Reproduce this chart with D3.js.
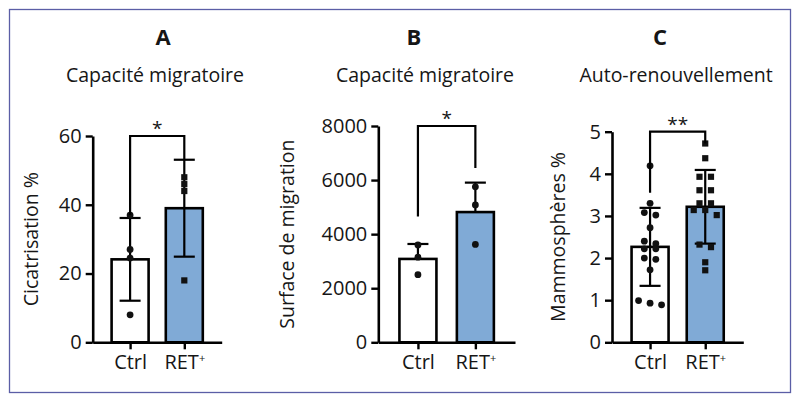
<!DOCTYPE html>
<html lang="fr">
<head>
<meta charset="UTF-8">
<title>Capacité migratoire et auto-renouvellement</title>
<style>
    body { margin: 0; background: #fff; }
    svg { display: block; font-family: "Open Sans", "Noto Sans", sans-serif; }
</style>
</head>
<body>
<svg width="800" height="398"></svg>
<script src="https://d3js.org/d3.v7.min.js"></script>
<script>
// ---- data ----
var panelLetters = ["A", "B", "C"];
var subtitles = ["Capacité migratoire", "Capacité migratoire", "Auto-renouvellement"];
var yLabels = ["Cicatrisation %", "Surface de migration", "Mammosphères %"];
var groups = ["Ctrl", "RET+"];

var ctrlA = [37, 27, 24.5, 8];
var retA = [48, 46, 44, 18];
var ctrlB = [3600, 3150, 2500];
var retB = [5750, 5080, 3620];
var ctrlC = [4.19, 3.30, 3.08, 3.02, 2.72, 2.40, 2.34, 2.22, 2.22, 2.00, 1.97, 1.72, 0.99, 0.93, 0.89];
var retC = [4.72, 4.37, 3.93, 3.93, 3.61, 3.61, 3.30, 3.30, 3.14, 3.14, 3.02, 2.32, 2.26, 1.90, 1.71];

var ticksA = [0, 20, 40, 60];
var ticksB = [0, 2000, 4000, 6000, 8000];
var ticksC = [0, 1, 2, 3, 4, 5];

var sigLabels = ["*", "*", "**"];
var sigTop = [60, 8000, 5];          // bracket level
var sigLeftEnd = [37, 4650, 3.55];   // where the left leg stops
var sigRightEnd = [53, 6450, 4.72];  // where the right leg stops

// ---- layout per panel ----
var layout = [
    { axisX: 92.7, plotW: 129, yTop: 136, titleX: 163, subX: 155, yLabX: 37.5, lowerErr: true, retShape: "square" },
    { axisX: 378.3, plotW: 136.7, yTop: 126, titleX: 414, subX: 425, yLabX: 294, lowerErr: false, retShape: "circle" },
    { axisX: 612, plotW: 131.3, yTop: 131.7, titleX: 660, subX: 676, yLabX: 565, lowerErr: true, retShape: "square" }
];
var yBottom = 342.3;
var barW = 37;
var blue = "#80aad6";
var ink = "#161616";

var panelData = [
    { values: [ctrlA, retA], ticks: ticksA },
    { values: [ctrlB, retB], ticks: ticksB },
    { values: [ctrlC, retC], ticks: ticksC }
];

var svg = d3.select("svg");

// frame
svg.append("rect")
    .attr("x", 9.5).attr("y", 9.5)
    .attr("width", 781).attr("height", 383)
    .attr("fill", "none")
    .attr("stroke", "#5b5ea6")
    .attr("stroke-width", 1.3);

// simple row-based scatter layout, like the prism dot plots
function swarm(vals, y, cx) {
    var pts = vals.map(function (v) { return { v: v, py: y(v) }; })
        .sort(function (a, b) { return a.py - b.py; });
    var rows = [];
    pts.forEach(function (p) {
        var row = rows[rows.length - 1];
        if (row && p.py - row[0].py < 6.5) row.push(p);
        else rows.push([p]);
    });
    rows.forEach(function (row) {
        row.forEach(function (p, i) {
            p.px = cx + (i - (row.length - 1) / 2) * 11.5;
        });
    });
    return pts;
}

panelData.forEach(function (pd, k) {
    var L = layout[k];
    var g = svg.append("g");
    var yMax = d3.max(pd.ticks);

    var y = d3.scaleLinear().domain([0, yMax]).range([yBottom, L.yTop]);
    var x = d3.scalePoint().domain(groups)
        .range([L.axisX, L.axisX + L.plotW])
        .padding(0.69).align(0.5);

    // titles
    g.append("text")
        .attr("x", L.titleX).attr("y", 45)
        .attr("text-anchor", "middle")
        .attr("font-weight", "bold")
        .attr("font-size", 22)
        .attr("fill", ink)
        .text(panelLetters[k]);
    g.append("text")
        .attr("x", L.subX).attr("y", 81.5)
        .attr("text-anchor", "middle")
        .attr("font-size", 19.5)
        .attr("fill", ink)
        .text(subtitles[k]);

    // y label
    g.append("text")
        .attr("transform", "translate(" + L.yLabX + "," + ((yBottom + L.yTop) / 2) + ") rotate(-90)")
        .attr("text-anchor", "middle")
        .attr("font-size", 19.5)
        .attr("fill", ink)
        .text(yLabels[k]);

    // bars
    pd.values.forEach(function (vals, i) {
        var m = d3.mean(vals);
        g.append("rect")
            .attr("x", x(groups[i]) - barW / 2)
            .attr("y", y(m))
            .attr("width", barW)
            .attr("height", yBottom - y(m))
            .attr("fill", i === 0 ? "#fff" : blue)
            .attr("stroke", "#000")
            .attr("stroke-width", 2.6);
    });

    // error bars (mean +/- SD)
    pd.values.forEach(function (vals, i) {
        var m = d3.mean(vals), sd = d3.deviation(vals);
        var cx = x(groups[i]);
        var lo = L.lowerErr ? m - sd : m;
        var eb = g.append("g").attr("stroke", "#000").attr("stroke-width", 2.2);
        eb.append("line")
            .attr("x1", cx).attr("x2", cx)
            .attr("y1", y(lo)).attr("y2", y(m + sd));
        eb.append("line")
            .attr("x1", cx - 10.5).attr("x2", cx + 10.5)
            .attr("y1", y(m + sd)).attr("y2", y(m + sd));
        if (L.lowerErr) {
            eb.append("line")
                .attr("x1", cx - 10.5).attr("x2", cx + 10.5)
                .attr("y1", y(lo)).attr("y2", y(lo));
        }
    });

    // points
    pd.values.forEach(function (vals, i) {
        var pts = swarm(vals, y, x(groups[i]));
        var shape = i === 0 ? "circle" : L.retShape;
        if (shape === "circle") {
            g.selectAll(null).data(pts).enter().append("circle")
                .attr("cx", function (d) { return d.px; })
                .attr("cy", function (d) { return d.py; })
                .attr("r", 3.4)
                .attr("fill", "#111");
        } else {
            g.selectAll(null).data(pts).enter().append("rect")
                .attr("x", function (d) { return d.px - 3.1; })
                .attr("y", function (d) { return d.py - 3.1; })
                .attr("width", 6.2).attr("height", 6.2)
                .attr("fill", "#111");
        }
    });

    // axes
    var yAxis = d3.axisLeft(y).tickValues(pd.ticks).tickFormat(d3.format("d"))
        .tickSize(7).tickSizeOuter(0).tickPadding(4);
    var ya = g.append("g").attr("transform", "translate(" + L.axisX + ",0)").call(yAxis);
    var xAxis = d3.axisBottom(x).tickSize(7).tickSizeOuter(0).tickPadding(6);
    var xa = g.append("g").attr("transform", "translate(0," + yBottom + ")").call(xAxis);

    [ya, xa].forEach(function (a) {
        a.select(".domain").attr("stroke-width", 2.6);
        a.selectAll(".tick line").attr("stroke-width", 2.4);
        a.selectAll(".tick text")
            .attr("font-family", "\"Open Sans\", \"Noto Sans\", sans-serif")
            .attr("font-size", 20)
            .attr("fill", ink);
    });

    // superscript plus on RET+
    xa.selectAll(".tick text").each(function (d) {
        if (d === "RET+") {
            var t = d3.select(this).text("");
            t.append("tspan").text("RET");
            t.append("tspan").attr("font-size", 11).attr("dy", "-0.7em").text("+");
        }
    });

    // significance bracket
    var x1 = x(groups[0]), x2 = x(groups[1]), yt = y(sigTop[k]);
    g.append("path")
        .attr("d", "M" + x1 + "," + y(sigLeftEnd[k]) + "V" + yt + "H" + x2 + "V" + y(sigRightEnd[k]))
        .attr("fill", "none")
        .attr("stroke", "#000")
        .attr("stroke-width", 2.2);
    g.append("text")
        .attr("x", (x1 + x2) / 2).attr("y", yt - 1)
        .attr("text-anchor", "middle")
        .attr("font-size", 19)
        .attr("fill", ink)
        .text(sigLabels[k]);
});
</script>
</body>
</html>
